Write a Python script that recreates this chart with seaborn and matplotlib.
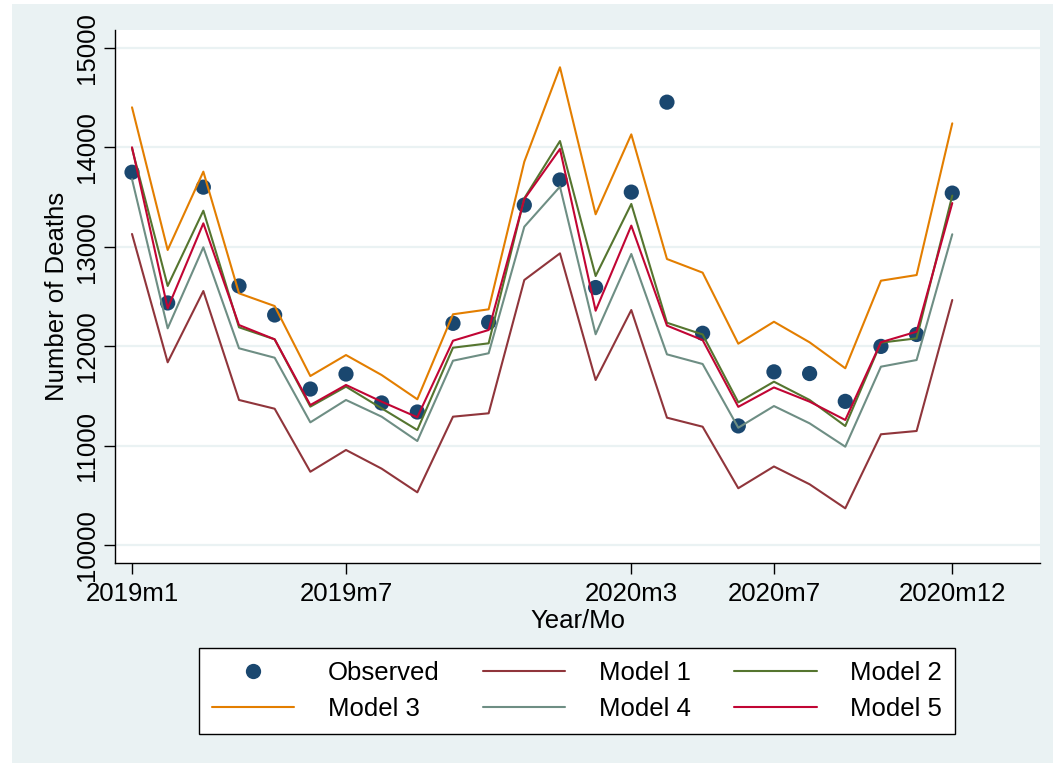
import numpy as np
import pandas as pd
import matplotlib
matplotlib.use("Agg")
import matplotlib.pyplot as plt
from matplotlib.patches import Rectangle
from matplotlib.lines import Line2D
import seaborn as sns

# Monthly death counts, 2019m1 .. 2020m12
months = [f"{y}m{m}" for y in (2019, 2020) for m in range(1, 13)]

observed = [13750, 12435, 13600, 12606, 12314, 11569, 11720, 11429, 11338, 12230, 12240, 13420,
            13672, 12590, 13550, 14455, 12130, 11198, 11742, 11725, 11445, 11998, 12118, 13540]
model1 = [13129, 11838, 12555, 11459, 11371, 10737, 10956, 10768, 10530, 11291, 11325, 12666,
          12934, 11660, 12364, 11281, 11190, 10571, 10790, 10611, 10369, 11114, 11147, 12465]
model2 = [13990, 12606, 13363, 12190, 12069, 11392, 11593, 11375, 11157, 11985, 12029, 13488,
          14064, 12706, 13431, 12236, 12118, 11435, 11643, 11459, 11197, 12036, 12079, 13515]
model3 = [14403, 12968, 13756, 12532, 12404, 11700, 11911, 11710, 11466, 12321, 12371, 13856,
          14806, 13327, 14131, 12877, 12740, 12025, 12246, 12039, 11778, 12659, 12716, 14242]
model4 = [13680, 12180, 12995, 11979, 11884, 11234, 11459, 11291, 11046, 11854, 11929, 13202,
          13605, 12120, 12928, 11918, 11821, 11180, 11398, 11224, 10989, 11794, 11861, 13126]
model5 = [14001, 12381, 13236, 12213, 12069, 11408, 11610, 11442, 11285, 12055, 12163, 13480,
          13984, 12357, 13213, 12207, 12062, 11390, 11585, 11442, 11258, 12040, 12146, 13440]

model_names = ["Model 1", "Model 2", "Model 3", "Model 4", "Model 5"]
model_values = [model1, model2, model3, model4, model5]

xtick_labels = ["2019m1", "2019m7", "2020m3", "2020m7", "2020m12"]
ytick_values = [10000, 11000, 12000, 13000, 14000, 15000]

# Stata s2color palette
obs_color = "#1A476F"
model_colors = {"Model 1": "#90353B", "Model 2": "#55752F", "Model 3": "#E37E00",
                "Model 4": "#6E8E84", "Model 5": "#C10534"}
bg = "#EAF2F3"

idx = np.arange(len(months))
obs_df = pd.DataFrame({"t": idx, "deaths": observed})
mod_df = pd.concat(
    [pd.DataFrame({"t": idx, "deaths": v, "series": n}) for n, v in zip(model_names, model_values)],
    ignore_index=True)

sns.set_theme(style="white")
plt.rcParams["font.family"] = ["Liberation Sans", "DejaVu Sans"]
plt.rcParams["text.color"] = "black"
plt.rcParams["axes.labelcolor"] = "black"
plt.rcParams["xtick.color"] = "black"
plt.rcParams["ytick.color"] = "black"
fs = 18.5

W, H = 1058, 767
fig = plt.figure(figsize=(W / 100, H / 100), dpi=100, facecolor="white")
fig.patches.append(Rectangle((12 / W, 1 - 763 / H), (1053 - 12) / W, (763 - 4) / H,
                             transform=fig.transFigure, facecolor=bg, edgecolor="none",
                             zorder=-10))

ax = fig.add_axes([115 / W, 1 - 563 / H, (1040 - 115) / W, (563 - 30) / H])
ax.set_zorder(1)
ax.set_facecolor("white")

sns.scatterplot(data=obs_df, x="t", y="deaths", ax=ax, color=obs_color, s=120,
                edgecolor="none", zorder=3, legend=False)
for i, name in enumerate(model_names):
    sns.lineplot(data=mod_df[mod_df["series"] == name], x="t", y="deaths", ax=ax,
                 color=model_colors[name], linewidth=1.5, zorder=4 + i, legend=False)

ax.set_xlim(-0.477, 25.46)
ax.set_ylim(9819, 15181)
ax.set_xticks([months.index(m) for m in xtick_labels])
ax.set_xticklabels(xtick_labels, fontsize=fs)
ax.set_yticks(ytick_values)
ax.set_yticklabels([str(v) for v in ytick_values], fontsize=fs, rotation=90, va="center")
ax.tick_params(axis="both", which="major", bottom=True, left=True, direction="out",
               length=7.7, width=1, color="black")
ax.tick_params(axis="x", pad=6)
ax.tick_params(axis="y", pad=3.7)
ax.yaxis.grid(True, color=bg, linewidth=1.6)
ax.xaxis.grid(False)
ax.set_axisbelow(True)

for side in ("top", "right"):
    ax.spines[side].set_visible(False)
for side in ("left", "bottom"):
    ax.spines[side].set_color("black")
    ax.spines[side].set_linewidth(1)

ax.set_xlabel("Year/Mo", fontsize=fs)
ax.set_ylabel("Number of Deaths", fontsize=fs)
ax.xaxis.set_label_coords(0.5, -0.087)
ax.yaxis.set_label_coords(-0.050, 0.5)

# Legend laid out row by row: Observed, Model 1, Model 2 / Model 3, Model 4, Model 5
obs_handle = Line2D([], [], linestyle="none", marker="o", markersize=11,
                    markerfacecolor=obs_color, markeredgecolor="none")
h = {n: Line2D([], [], color=model_colors[n], linewidth=1.5) for n in model_names}
handles = [obs_handle, h["Model 3"], h["Model 1"], h["Model 4"], h["Model 2"], h["Model 5"]]
labels = ["Observed", "Model 3", "Model 1", "Model 4", "Model 2", "Model 5"]
leg = fig.legend(handles, labels, ncol=3, loc="center",
                 bbox_to_anchor=(577 / W, 1 - 691 / H), bbox_transform=fig.transFigure,
                 fontsize=fs, frameon=True, fancybox=False, framealpha=1, handlelength=3.2,
                 handletextpad=1.3, columnspacing=1.7, labelspacing=0.5, borderpad=0.5)
leg.get_frame().set_edgecolor("black")
leg.get_frame().set_linewidth(1)
leg.get_frame().set_facecolor("white")

fig.savefig("out.png", dpi=100, facecolor="white")
